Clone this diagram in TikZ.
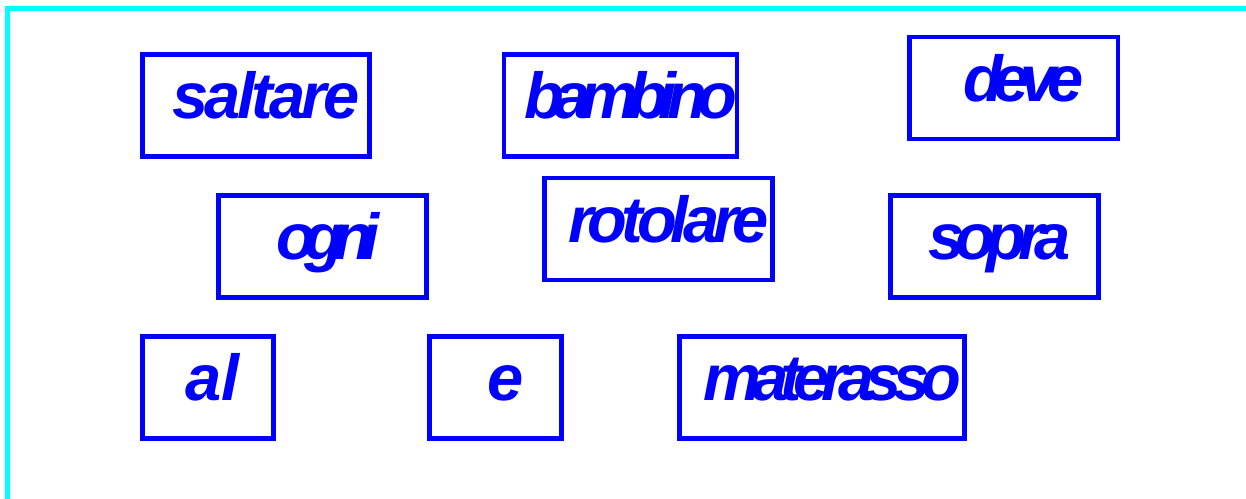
\documentclass[tikz,border=0pt]{standalone}
\usepackage{fontspec}
\newfontfamily\wordfont{Liberation Sans}
\definecolor{wordblue}{HTML}{0000FF}
\definecolor{frame}{HTML}{00FFFF}

\begin{document}
\begin{tikzpicture}[x=0.02cm,y=-0.02cm,
 word/.style={rectangle,draw=wordblue,line width=0.09cm,text=wordblue,inner sep=0pt,
  minimum height=2.05cm,text height=1.04cm,text depth=0.5cm,
  font=\wordfont\bfseries\itshape\fontsize{37}{40}\selectfont,
  execute at begin node={\hspace*{#1}}},
 word/.default=0.4cm,
 ls/.style={execute at begin node={\addfontfeature{LetterSpace=#1}}},
 edge/.style={frame,line width=0.1cm}]
 \useasboundingbox (0,0) rectangle (1246,499);
 \draw[edge] (7.5,499) -- (7.5,8.5) -- (1246,8.5);
 % first row
 \node[word,ls=-5.8,minimum width=4.55cm] (saltare) at (256,105.5) {saltare};
 \node[word,ls=-14.9,minimum width=4.57cm] (bambino) at (620.5,105.5) {bambino};
 \node[word,ls=-14.7,minimum width=4.17cm] (deve) at (1013.5,88) {deve};
 % second row
 \node[word=0.22cm,ls=-17.3,minimum width=4.17cm] (ogni) at (322.5,246.5) {ogni};
 \node[word,ls=-9.1,minimum width=4.57cm] (rotolare) at (658.5,229) {rotolare};
 \node[word=0.2cm,ls=-13.3,minimum width=4.17cm] (sopra) at (994.5,246.5) {sopra};
 % third row
 \node[word=0.18cm,ls=-1.3,minimum width=2.63cm] (al) at (208,387.5) {al};
 \node[word,minimum width=2.65cm] (e) at (495.5,387.5) {e};
 \node[word,ls=-13,minimum width=5.71cm] (materasso) at (822,387.5) {materasso};
\end{tikzpicture}
\end{document}
